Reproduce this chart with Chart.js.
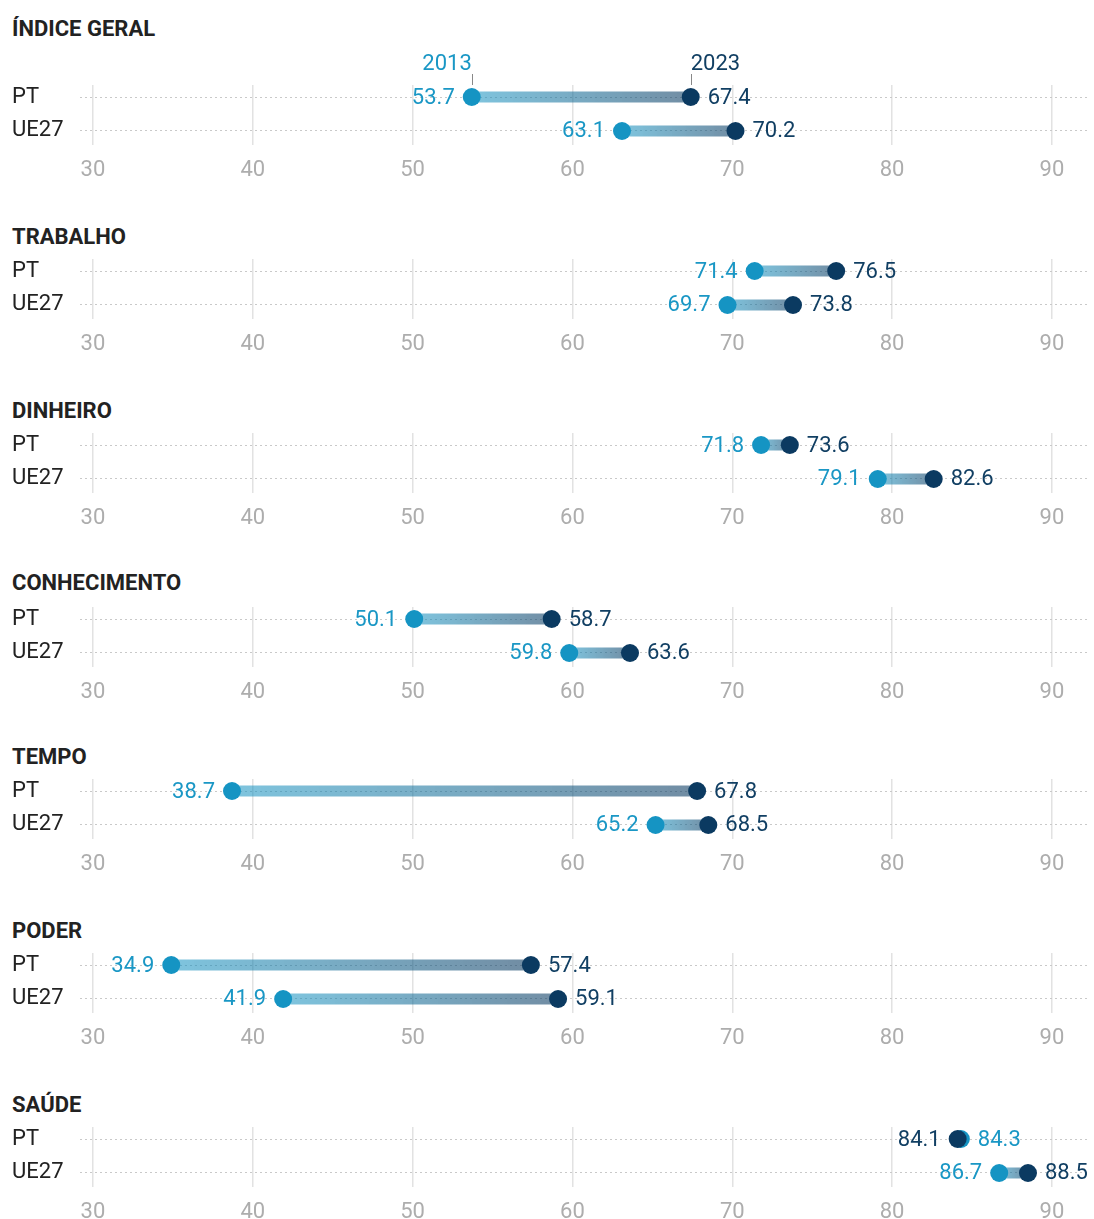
<!DOCTYPE html>
<html>
<head>
<meta charset="utf-8">
<script src="https://cdn.jsdelivr.net/npm/chart.js@4/dist/chart.umd.min.js"></script>
<style>
  body { margin: 0; background: #fff; width: 1094px; height: 1219px; position: relative; overflow: hidden; font-family: Roboto, sans-serif; }
  .title { position: absolute; left: 12px; font-weight: 700; font-size: 22px; line-height: 26px; color: #222; }
  .panel { position: absolute; left: 0; }
</style>
</head>
<body>
<script>
// dados
const categories = ['ÍNDICE GERAL', 'TRABALHO', 'DINHEIRO', 'CONHECIMENTO', 'TEMPO', 'PODER', 'SAÚDE'];
const countries = ['PT', 'UE27'];
const years = ['2013', '2023'];
const pt2013 = [53.7, 71.4, 71.8, 50.1, 38.7, 34.9, 84.3];
const pt2023 = [67.4, 76.5, 73.6, 58.7, 67.8, 57.4, 84.1];
const ue2013 = [63.1, 69.7, 79.1, 59.8, 65.2, 41.9, 86.7];
const ue2023 = [70.2, 73.8, 82.6, 63.6, 68.5, 59.1, 88.5];
const xTicks = [30, 40, 50, 60, 70, 80, 90];

// layout (posição vertical de cada painel)
const titleTops = [16, 224, 398, 570, 744, 918, 1092];
const panelTops = [47, 221, 395, 569, 741, 915, 1089];

const C2013 = '#1594c3';
const C2023 = '#0b3a61';
const TEXT2013 = '#1a97c5';
const TEXT2023 = '#113f63';

const valueLabels = {
    id: 'valueLabels',
    afterDatasetsDraw(chart) {
        const ctx = chart.ctx;
        ctx.save();
        ctx.font = '22px Roboto';
        ctx.textBaseline = 'middle';
        chart.data.datasets.forEach((ds, i) => {
            const pts = chart.getDatasetMeta(i).data;
            const v0 = ds.data[0].x, v1 = ds.data[1].x;
            const li = v0 <= v1 ? 0 : 1;
            const ri = 1 - li;
            const lp = pts[li], rp = pts[ri];
            ctx.textAlign = 'right';
            ctx.fillStyle = li === 0 ? TEXT2013 : TEXT2023;
            ctx.fillText(ds.data[li].x.toFixed(1), lp.x - 17, lp.y + 1);
            ctx.textAlign = 'left';
            ctx.fillStyle = ri === 0 ? TEXT2013 : TEXT2023;
            ctx.fillText(ds.data[ri].x.toFixed(1), rp.x + 17, rp.y + 1);
        });
        ctx.restore();
    }
};

const yearNotes = {
    id: 'yearNotes',
    afterDatasetsDraw(chart) {
        const ctx = chart.ctx;
        const pts = chart.getDatasetMeta(0).data;
        ctx.save();
        ctx.font = '22px Roboto';
        ctx.textBaseline = 'middle';
        ctx.strokeStyle = '#888';
        ctx.lineWidth = 1;
        pts.forEach((p, j) => {
            ctx.beginPath();
            ctx.moveTo(Math.round(p.x) + 0.5, p.y - 23);
            ctx.lineTo(Math.round(p.x) + 0.5, p.y - 12);
            ctx.stroke();
            ctx.textAlign = j === 0 ? 'right' : 'left';
            ctx.fillStyle = j === 0 ? TEXT2013 : TEXT2023;
            ctx.fillText(years[j], p.x, p.y - 33);
        });
        ctx.restore();
    }
};

function makeRow(v0, v1, row) {
    return {
        data: [{ x: v0, y: row }, { x: v1, y: row }],
        borderWidth: 11,
        borderCapStyle: 'butt',
        borderColor: ctx => {
            const chart = ctx.chart;
            if (!chart.chartArea) return 'rgba(21,148,195,0.57)';
            const xs = chart.scales.x;
            const a = xs.getPixelForValue(v0), b = xs.getPixelForValue(v1);
            if (Math.abs(a - b) < 1) return 'rgba(21,148,195,0.57)';
            const g = chart.ctx.createLinearGradient(a, 0, b, 0);
            g.addColorStop(0, 'rgba(21,148,195,0.55)');
            g.addColorStop(1, 'rgba(11,58,97,0.58)');
            return g;
        },
        pointRadius: 9,
        pointHoverRadius: 9,
        pointBorderWidth: 0,
        pointBackgroundColor: [C2013, C2023]
    };
}

categories.forEach((cat, k) => {
    const t = document.createElement('div');
    t.className = 'title';
    t.style.top = titleTops[k] + 'px';
    t.textContent = cat;
    document.body.appendChild(t);

    const canvas = document.createElement('canvas');
    canvas.className = 'panel';
    canvas.width = 1094;
    canvas.height = 140;
    canvas.style.top = panelTops[k] + 'px';
    document.body.appendChild(canvas);

    new Chart(canvas, {
        type: 'line',
        data: {
            datasets: [
                makeRow(pt2013[k], pt2023[k], 0),
                makeRow(ue2013[k], ue2023[k], 1)
            ]
        },
        options: {
            responsive: false,
            animation: false,
            events: [],
            clip: false,
            layout: { autoPadding: false, padding: { top: 38, bottom: 3, left: 12, right: 4 } },
            scales: {
                x: {
                    type: 'linear',
                    min: 29.19,
                    max: 92.38,
                    afterBuildTicks: s => { s.ticks = xTicks.map(v => ({ value: v })); },
                    afterFit: s => { s.height = 39; s.paddingLeft = 0; s.paddingRight = 0; },
                    grid: { color: '#e2e2e2', lineWidth: 1.5, drawTicks: false },
                    border: { display: false },
                    ticks: { padding: 12, color: '#adadad', font: { family: 'Roboto', size: 22 } }
                },
                y: {
                    type: 'linear',
                    reverse: true,
                    min: -0.353,
                    max: 1.412,
                    afterBuildTicks: s => { s.ticks = countries.map((c, i) => ({ value: i })); },
                    afterFit: s => { s.width = 68; },
                    grid: { color: '#c9c9c9', lineWidth: 1, drawTicks: false },
                    border: { display: false, dash: [2, 3] },
                    ticks: {
                        crossAlign: 'far',
                        color: '#222',
                        font: { family: 'Roboto', size: 22 },
                        callback: v => countries[v]
                    }
                }
            },
            plugins: {
                legend: { display: false },
                tooltip: { enabled: false }
            }
        },
        plugins: k === 0 ? [valueLabels, yearNotes] : [valueLabels]
    });
});
</script>
</body>
</html>
